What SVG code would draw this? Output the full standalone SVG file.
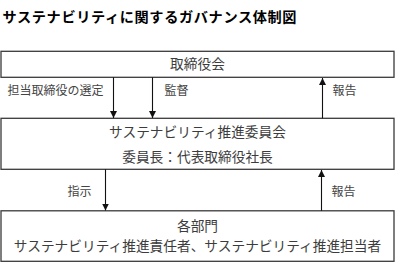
<svg xmlns="http://www.w3.org/2000/svg" width="395" height="273" viewBox="0 0 395 273">
<style>
.box{fill:#fff;stroke:#3a3a3a;stroke-width:1.3}
.t{font-family:"Noto Sans CJK JP","Noto Sans CJK SC",sans-serif;fill:#3c3c3c;font-size:13.7px;text-anchor:middle}
.lbl{font-family:"Noto Sans CJK JP","Noto Sans CJK SC",sans-serif;fill:#444;font-size:12px}
.title{font-family:"Noto Sans CJK JP","Noto Sans CJK SC",sans-serif;fill:#000;font-size:14.2px;font-weight:bold}
.c{stroke:#111;stroke-width:1.1;fill:none}
</style>
<defs>
<marker id="ah" viewBox="0 0 10 10" refX="10" refY="5" markerWidth="7" markerHeight="7" markerUnits="userSpaceOnUse" orient="auto">
<path d="M0,0 L10,5 L0,10 z" fill="#111"/>
</marker>
</defs>
<rect width="395" height="273" fill="#fff"/>
<text class="title" x="2.5" y="21.5" textLength="294" lengthAdjust="spacing">サステナビリティに関するガバナンス体制図</text>
<g id="board">
<rect class="box" x="1" y="51.3" width="393" height="26"/>
<text class="t" x="197.5" y="69">取締役会</text>
</g>
<g id="committee">
<rect class="box" x="1" y="118.3" width="393" height="51"/>
<text class="t" x="197.5" y="137">サステナビリティ推進委員会</text>
<text class="t" x="197.5" y="161.7">委員長：代表取締役社長</text>
</g>
<g id="departments">
<rect class="box" x="1" y="210.8" width="393" height="50.5"/>
<text class="t" x="197.5" y="231.4">各部門</text>
<text class="t" x="197.5" y="251">サステナビリティ推進責任者、サステナビリティ推進担当者</text>
</g>
<g id="connectors">
<line class="c" x1="113.5" y1="77.3" x2="113.5" y2="118" marker-end="url(#ah)"/>
<line class="c" x1="152.5" y1="77.3" x2="152.5" y2="118" marker-end="url(#ah)"/>
<line class="c" x1="322.5" y1="118.3" x2="322.5" y2="78" marker-end="url(#ah)"/>
<line class="c" x1="105.5" y1="169.3" x2="105.5" y2="210.5" marker-end="url(#ah)"/>
<line class="c" x1="321.5" y1="210.8" x2="321.5" y2="170" marker-end="url(#ah)"/>
<text class="lbl" x="7.5" y="95.2">担当取締役の選定</text>
<text class="lbl" x="164.5" y="95.2">監督</text>
<text class="lbl" x="332.5" y="95.2">報告</text>
<text class="lbl" x="67.5" y="195.7">指示</text>
<text class="lbl" x="331.5" y="195.7">報告</text>
</g>
</svg>
